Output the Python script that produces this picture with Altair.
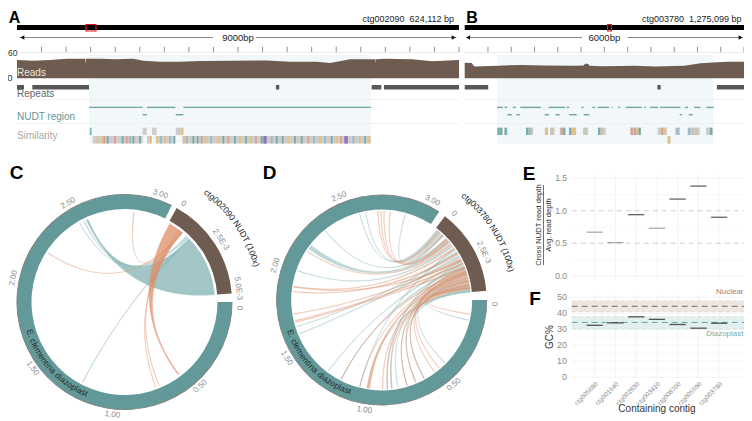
import math
import altair as alt
import pandas as pd

FONT = "Liberation Sans"
BROWN = "#6E5C51"
TEAL = "#64999A"
O = 8
RIGHT = 744   # rightmost pixel the page can show

# ---------- track panels ----------
A_depth_bp = [0,332,672,1012,1351,1385,1392,1400,1690,2030,2369,2573,2912,3320,3727,4406,5084,5560,6103,6374,6782,7257,7300,7305,7312,7498,8042,8449,9000]
A_depth    = [44,42,44,47,47,47,34,47,47,46,47,42,39.5,39.5,41.5,42,43,39.5,39.5,37,45.6,45.6,45.6,36,45.6,47,45.6,41,44]
B_depth_bp = [0,154,190,225,716,1207,1698,2400,2560,2575,2610,2660,2680,2961,3663,4084,4716,5067,5628,6000]
B_depth    = [37.6,36.5,30,28.5,30.4,32,31,30,31,34,35.5,34,30,29,30,28.5,30.4,36,40,40]
A_repeats = [(0,143),(312,1466),(5273,5341),(7221,7418),(7472,9000)]
B_repeats = [(0,505),(4140,4210),(5418,6000)]
A_nudt1 = [(1466,2559),(2647,3224),(3387,7207)]
A_nudt2 = [(2559,2647),(3231,3387)]
B_nudt1 = [(695,821),(856,912),(1032,1102),(1193,1635),(1804,2155),(2190,2246),(2505,2555),(2744,2800),(2856,3102),(3151,3179),(3298,3341),(3460,3804),(3853,3888),(3979,4155),(4197,4632),(4730,4800),(4927,5067),(5193,5348)]
B_nudt2 = [(912,1011),(1109,1186),(1719,1811),(1951,2042),(2246,2407),(2555,2681),(4618,4667),(4814,4899)]
SIM = {"t":"#5AA3A8","o":"#E9BE72","p":"#DB9488","b":"#84B8CB","v":"#8F6FB8","g":"#CDBFA8"}
A_sim1_blocks = [(2559,2640),(2749,2844),(3231,3387)]
A_sim1_stripes = [(1500,"t"),(3370,"o")]
A_sim2_blocks = [(1541,2559),(2647,2749),(2844,3224),(3367,7207)]
A_sim2_stripes = [(1642,"o"),(1737,"o"),(1778,"p"),(1846,"t"),(1995,"p"),(2151,"t"),(2233,"p"),(2301,"b"),(2369,"t"),(2504,"t"),(2722,"o"),(2844,"o"),(2932,"b"),(3014,"o"),(3115,"b"),(3204,"t"),(3400,"o"),(3455,"b"),(3591,"t"),(3679,"t"),(3761,"p"),(3842,"o"),(3951,"b"),(4100,"o"),(4202,"t"),(4304,"p"),(4439,"t"),(4541,"o"),(4663,"t"),(4758,"o"),(4867,"p"),(4982,"t"),(5030,"v"),(5050,"v"),(5070,"v"),(5186,"b"),(5288,"t"),(5410,"t"),(5525,"o"),(5661,"t"),(5797,"t"),(5933,"p"),(6048,"b"),(6170,"o"),(6272,"b"),(6408,"t"),(6510,"o"),(6598,"p"),(6680,"v"),(6700,"v"),(6720,"v"),(6849,"b"),(6985,"o"),(7087,"t"),(7155,"o")]
B_sim1_blocks = [(699,811),(853,916),(1315,1462),(1721,1791),(1833,1931),(2043,2155),(2239,2393),(2540,2652),(2862,3030),(3555,3786),(4143,4346),(4521,4626),(4787,5046),(5186,5333)]
B_sim1_stripes = [(727,"t"),(783,"t"),(881,"t"),(1343,"t"),(1406,"b"),(1441,"g"),(1756,"o"),(1875,"g"),(2085,"p"),(2141,"t"),(2267,"t"),(2316,"o"),(2365,"o"),(2596,"g"),(2890,"t"),(2946,"g"),(3590,"p"),(3660,"p"),(3716,"o"),(3758,"t"),(4241,"p"),(4290,"o"),(4577,"b"),(4822,"b"),(4906,"g"),(4976,"g"),(5291,"t")]
B_sim2_blocks = [(4353,4423)]
B_sim2_stripes = [(4388,"o")]

# ---------- E / F ----------
contigs = ["ctg005680","ctg001640","ctg002830","ctg003410","ctg008700","ctg005590","ctg003780"]
ratio = [0.67,0.51,0.94,0.73,1.18,1.38,0.90]
ratio_col = ["#8a8a8a","#8a8a8a","#222222","#8a8a8a","#222222","#222222","#222222"]
gc = [32.5,34,37.8,36.2,33,30.7,33.8]
E_major=[0,0.5,1,1.5]; E_minor=[0.25,0.75,1.25]
F_major=[0,10,20,30,40,50]; F_minor=[5,15,25,35,45]

# ---------- circular panels: (ctg pos, ctg width, plastome pos, plastome width, colour) ----------
C_chords = [
 (1.6,3.7,2.55,0.012,"w"),(0.1,0.9,0.55,0.008,"W"),
 (0.9,0.06,0.725,0.004,"o"),(0.75,0.06,0.70,0.004,"o"),(1.0,0.06,2.87,0.004,"o"),(0.95,0.05,2.21,0.004,"o"),
 (1.5,0.1,1.22,0.006,"t"),(1.42,0.05,2.50,0.004,"t"),(1.33,0.07,2.53,0.006,"t")]
D_chords = [
 (0.35,.15,2.62,.004,"t"),(0.6,.12,2.88,.004,"t"),(0.9,.12,2.33,.004,"t"),(1.15,.15,2.17,.03,"t"),(1.5,.12,2.01,.004,"t"),
 (2.0,.12,1.64,.004,"t"),(2.3,.15,1.59,.004,"t"),(2.65,.12,1.28,.004,"t"),(3.0,.15,1.18,.004,"t"),(3.2,.12,0.87,.004,"t"),
 (3.55,.12,0.80,.004,"t"),(3.8,.15,0.74,.004,"t"),(4.1,.15,0.62,.004,"t"),(4.35,.2,0.13,.004,"t"),(4.6,.2,0.68,.004,"t"),
 (1.8,.1,1.05,.004,"t"),(2.85,.1,0.84,.004,"t"),(4.68,.1,1.0,.004,"t"),(3.42,.1,0.45,.004,"t"),(0.1,.18,2.58,.004,"t"),
 (0.25,.1,2.70,.004,"o"),(0.55,.1,2.72,.004,"o"),(0.95,.14,2.78,.004,"o"),(1.35,.12,2.15,.004,"o"),(1.7,.12,1.905,.004,"o"),
 (2.1,.14,1.87,.004,"o"),(2.5,.12,1.725,.004,"o"),(2.8,.14,1.68,.004,"o"),(3.1,.12,1.67,.004,"o"),(3.3,.16,1.18,.004,"o"),
 (3.5,.12,1.05,.004,"o"),(3.7,.2,0.985,.02,"o"),(3.95,.16,0.90,.004,"o"),(4.2,.16,0.87,.004,"o"),(4.45,.14,0.84,.004,"o"),
 (4.3,.12,0.74,.004,"o"),(3.6,.12,0.68,.004,"o"),(4.0,.12,0.62,.004,"o"),(3.4,.12,0.54,.004,"o"),(3.15,.1,0.50,.004,"o"),
 (4.5,.1,0.09,.004,"o"),(1.1,.1,2.74,.004,"o"),(2.6,.1,1.90,.004,"o")]
C_plast_ticks=[0.5,1,1.5,2,2.5,3]; D_plast_ticks=C_plast_ticks

def sc(dom, a, b):
    return alt.Scale(domain=dom, range=[a-O, b-O], nice=False, zero=False)

def label(t, px, py, size=10, color="#333333", angle=0, align="center", weight="normal", style="normal"):
    return alt.Chart(pd.DataFrame({"t":[t]})).mark_text(fontSize=size, color=color, angle=angle % 360, align=align,
        baseline="middle", font=FONT, fontWeight=weight, fontStyle=style).encode(x=alt.value(px-O), y=alt.value(py-O), text="t:N")

def rects(iv, xs, y0, y1, color, opacity=1):
    d = pd.DataFrame({"a":[i[0] for i in iv],"b":[i[1] for i in iv],"lo":[0]*len(iv),"hi":[1]*len(iv)})
    return alt.Chart(d).mark_rect(color=color, opacity=opacity, stroke=None).encode(
        x=alt.X("a:Q",scale=xs,axis=None), x2="b:Q",
        y=alt.Y("lo:Q",scale=sc([0,1],y1,y0),axis=None), y2="hi:Q")

def stripes(st, half, xs, y0, y1):
    d = pd.DataFrame({"a":[s[0]-half for s in st],"b":[s[0]+half for s in st],"c":[SIM[s[1]] for s in st],"lo":[0]*len(st),"hi":[1]*len(st)})
    return alt.Chart(d).mark_rect(stroke=None, opacity=0.8).encode(
        x=alt.X("a:Q",scale=xs,axis=None), x2="b:Q",
        y=alt.Y("lo:Q",scale=sc([0,1],y1,y0),axis=None), y2="hi:Q",
        color=alt.Color("c:N",scale=None,legend=None))

def hline(xs, dom, y, color="#EEEEEE"):
    return rects([tuple(dom)], xs, y, y+0.7, color)

def track(span, x0, x1, shade, marker, lenlabel, gap, ctgtext, ctgx, depth_bp, depth, reps, n1, n2, s1b, s1s, s2b, s2s, half):
    xs = sc([0,span], x0, x1)
    L = []
    L.append(rects([shade], xs, 55, 143.5, "#F2F8FA"))
    L.append(hline(xs,[0,span],99)); L.append(hline(xs,[0,span],123.3))
    L.append(rects([(0,span)], xs, 25, 30, "#000000"))
    mk = pd.DataFrame({"a":[marker[0]],"b":[marker[1]],"lo":[0],"hi":[1]})
    L.append(alt.Chart(mk).mark_rect(fill=None, stroke="#E8141C", strokeWidth=1.2).encode(
        x=alt.X("a:Q",scale=xs,axis=None), x2="b:Q", y=alt.Y("lo:Q",scale=sc([0,1],31,24.5),axis=None), y2="hi:Q"))
    L.append(rects([(span*0.006,gap[0]),(gap[1],span*0.994)], xs, 37.2, 37.8, "#111111"))
    for pos,sh in ((span*0.012,"triangle-left"),(span*0.988,"triangle-right")):
        L.append(alt.Chart(pd.DataFrame({"a":[pos]})).mark_point(shape=sh, filled=True, color="#111111", size=22, opacity=1).encode(
            x=alt.X("a:Q",scale=xs,axis=None), y=alt.value(37.5-O)))
    L.append(label(lenlabel, (x0+x1)/2, 37.5, size=9.5, color="#222222"))
    L.append(label(ctgtext, ctgx, 19, size=9, color="#222222", align="right"))
    t = pd.DataFrame({"a":list(range(500,span+1,500))})
    t["lo"]=0; t["hi"]=1
    L.append(alt.Chart(t).mark_rule(color="#666666",strokeWidth=0.7).encode(
        x=alt.X("a:Q",scale=xs,axis=None), y=alt.Y("lo:Q",scale=sc([0,1],52.3,46.7),axis=None), y2="hi:Q"))
    L.append(rects([(0,span)], xs, 52, 52.6, "#D8D8D8"))
    ys = sc([0,60], 78.3, 53.3)
    cov = pd.DataFrame({"a":depth_bp,"d":depth})
    L.append(alt.Chart(cov).mark_area(color=BROWN, interpolate="linear").encode(
        x=alt.X("a:Q",scale=xs,axis=None), y=alt.Y("d:Q",scale=ys,axis=None)))
    L.append(rects(reps, xs, 85, 89.5, "#585858"))
    L.append(rects(n1, xs, 106.7, 108.1, "#6FA5A3"))
    L.append(rects(n2, xs, 114, 115.4, "#6FA5A3"))
    L.append(rects(s1b, xs, 127.7, 135, "#CFCCC9"))
    L.append(stripes(s1s, half, xs, 127.7, 135))
    L.append(rects(s2b, xs, 136, 143.5, "#CFCCC9"))
    L.append(stripes(s2s, half, xs, 136, 143.5))
    return L

layers = []
layers += track(9000,17,459,(1466,7207),(1405,1608),"9000bp",(3990,4860),"ctg002090\u00a0\u00a0624,112 bp",454,A_depth_bp,A_depth,A_repeats,A_nudt1,A_nudt2,A_sim1_blocks,A_sim1_stripes,A_sim2_blocks,A_sim2_stripes,18)
layers += track(6000,464.7,RIGHT,(695,5347),(3069,3153),"6000bp",(2520,3500),"ctg003780\u00a0\u00a01,275,099 bp",741.5,B_depth_bp,B_depth,B_repeats,B_nudt1,B_nudt2,B_sim1_blocks,B_sim1_stripes,B_sim2_blocks,B_sim2_stripes,24)

layers.append(label("A",14.5,17.5,size=16,color="#000000",weight="bold"))
layers.append(label("B",472,17.5,size=16,color="#000000",weight="bold"))
layers.append(label("60",17.5,53,size=8.5,color="#333333",align="right"))
layers.append(label("0",12.5,77.5,size=9.5,color="#333333",align="right"))
layers.append(label("Reads",17,72.7,size=10,color="#EDE6DF",align="left"))
layers.append(label("Repeats",17,94,size=10,color="#666666",align="left"))
layers.append(label("NUDT region",17,117,size=10,color="#5F9799",align="left"))
layers.append(label("Similarity",17,136,size=10,color="#A8A8A8",align="left"))

# ---------- circular panels ----------
W = {"i":.27,"l":.23,".":.28," ":.28,"t":.28,"r":.34,"(":.33,")":.33,"c":.5,"z":.5,"s":.5,"x":.5,"m":.83,"U":.72,"N":.72,"D":.72,"T":.61,"E":.67}
def curved(text, cx, cy, r, start_deg, size, color, clockwise=True, style="normal"):
    step = 180/math.pi/r
    pos = start_deg; rows=[]
    for c in text:
        w = W.get(c,.556)*size
        mid = pos + (w/2)*step*(1 if clockwise else -1)
        rot = mid if clockwise else mid-180
        rows.append({"c":c,"th":math.radians(mid),"rot":rot % 360})
        pos += w*step*(1 if clockwise else -1)
    return alt.Chart(pd.DataFrame(rows)).mark_text(radius=r,fontSize=size,color=color,font=FONT,fontStyle=style,align="center",baseline="middle").encode(
        theta=alt.Theta("th:Q",scale=None), angle=alt.Angle("rot:Q",scale=None), text="c:N",
        x=alt.value(cx-O), y=alt.value(cy-O))

def ring(cx, cy, rin, rout, dom, a0, a1, color):
    d = pd.DataFrame({"a":[dom[0]],"b":[dom[1]]})
    s = alt.Scale(domain=dom, range=[math.radians(a0),math.radians(a1)], nice=False, zero=False)
    return alt.Chart(d).mark_arc(innerRadius=rin, outerRadius=rout, color=color, stroke=None).encode(
        theta=alt.Theta("a:Q",scale=s), theta2="b:Q", x=alt.value(cx-O), y=alt.value(cy-O))

def ticks(cx, cy, r, vals, texts, dom, a0, a1, size=8):
    s = alt.Scale(domain=dom, range=[math.radians(a0),math.radians(a1)], nice=False, zero=False)
    rows=[]
    for v,t in zip(vals,texts):
        th = a0+(v-dom[0])/(dom[1]-dom[0])*(a1-a0)
        th %= 360
        rot = th-180 if 100<th<260 else th
        rows.append({"v":v,"t":t,"rot":rot%360})
    return alt.Chart(pd.DataFrame(rows)).mark_text(radius=r,fontSize=size,color="#8A8A8A",font=FONT,align="center",baseline="middle").encode(
        theta=alt.Theta("v:Q",scale=s), angle=alt.Angle("rot:Q",scale=None), text="t:N", x=alt.value(cx-O), y=alt.value(cy-O))

def ribbons(chords, kinds, rho, pl_dom, pl_ang, ct_dom, ct_ang):
    pa = lambda v: math.radians(pl_ang[0]+v/pl_dom*(pl_ang[1]-pl_ang[0]))
    ca = lambda v: math.radians(ct_ang[0]+v/ct_dom*(ct_ang[1]-ct_ang[0]))
    rows=[]
    for k,(c,wc,p,wp,kd) in enumerate(chords):
        if kd not in kinds: continue
        a1,a2=ca(c),ca(c+wc); b1,b2=pa(p),pa(p+wp)
        P=lambda t:(rho*math.sin(t),rho*math.cos(t))
        pts=[P(a1+(a2-a1)*j/8) for j in range(9)]
        def bez(t0,t1):
            x0,y0=P(t0);x1,y1=P(t1)
            return [((1-u)**2*x0+u*u*x1,(1-u)**2*y0+u*u*y1) for u in [j/40 for j in range(1,40)]]
        pts+=bez(a2,b1)
        pts+=[P(b1+(b2-b1)*j/4) for j in range(5)]
        pts+=bez(b2,a1)
        pts.append(P(a1))
        for i,(x,y) in enumerate(pts):
            rows.append({"id":k,"i":i,"x":x,"y":y})
    return pd.DataFrame(rows)

STY = {"t":("#7FB1B1",0.5),"o":("#E08E68",0.55),"w":("#7FB1B1",0.72),"W":("#E08E68",0.75)}
def chord_layers(chords, cx, cy, R, rho, pl_dom, pl_ang, ct_dom, ct_ang, order):
    out=[]
    for kind in order:
        df = ribbons(chords,[kind],rho,pl_dom,pl_ang,ct_dom,ct_ang)
        if df.empty: continue
        col,op = STY[kind]
        out.append(alt.Chart(df).mark_line(filled=True,fill=col,stroke=col,strokeWidth=0.35,opacity=op,interpolate="linear").encode(
            x=alt.X("x:Q",scale=sc([-1,1],cx-R,cx+R),axis=None),
            y=alt.Y("y:Q",scale=sc([-1,1],cy+R,cy-R),axis=None),
            detail="id:N", order=alt.Order("i:Q")))
    return out

pticks_txt=["0.50","1.00","1.50","2.00","2.50","3.00"]
# C
layers += chord_layers(C_chords,124.5,302,107.5,90.3/107.5,3.08,(90,386),5.3,(29,85.4),["w","t","o","W"])
layers.append(ring(124.5,302,93,107.5,[0,3.08],90,386,TEAL))
layers.append(ring(124.5,302,107.2,108,[0,3.08],90,386,"#777777"))
layers.append(ring(124.5,302,93,107.5,[0,5.3],29,85.4,BROWN))
layers.append(ticks(124.5,302,113.5,C_plast_ticks,pticks_txt,[0,3.08],90,386))
layers.append(ticks(124.5,302,115,[0],["0"],[0,3.08],93,389))
layers.append(ticks(124.5,302,114.5,[0,2.5,5.0],["0","2.5E-3","5.0E-3"],[0,5.3],31,86.4))
layers.append(curved("E. clementina diazoplast",124.5,302,100,254,8.3,"#1E2B2B",clockwise=False))
layers.append(curved("ctg002090 NUDT (100x)",124.5,302,137,36,8.6,"#222222"))
layers.append(label("C",16.5,173,size=19,color="#000000",weight="bold"))
# D
layers += chord_layers(D_chords,381.7,300,105,89/105,3.06,(90,393),4.8,(37,85),["t","o"])
layers.append(ring(381.7,300,90.5,105,[0,3.06],90,393,TEAL))
layers.append(ring(381.7,300,104.7,105.5,[0,3.06],90,393,"#777777"))
layers.append(ring(381.7,300,90.5,105,[0,4.8],37,85,BROWN))
layers.append(ticks(381.7,300,111.5,D_plast_ticks,pticks_txt,[0,3.06],90,393))
layers.append(ticks(381.7,300,112.5,[0],["0"],[0,3.06],92,395))
layers.append(ticks(381.7,300,112.5,[0,2.5],["0","2.5E-3"],[0,4.8],40,88))
layers.append(curved("E. clementina diazoplast",381.7,300,97.5,252,8.3,"#1E2B2B",clockwise=False))
layers.append(curved("ctg003780 NUDT (100x)",381.7,300,133,37.5,8.6,"#222222"))
layers.append(label("D",269.5,173,size=19,color="#000000",weight="bold"))

# ---------- E ----------
xp = alt.Scale(type="point",domain=contigs,range=[584.3-O,729.5-O])
yE = sc([0,1.5],275.7,178.3)
yF = sc([0,50],377.3,297.3)
def hgrid(vals, ys, color, width=0.7, dash=None):
    d=pd.DataFrame({"v":vals,"a":[0]*len(vals),"b":[1]*len(vals)})
    kw={"strokeDash":dash} if dash else {}
    return alt.Chart(d).mark_rule(color=color,strokeWidth=width,**kw).encode(
        y=alt.Y("v:Q",scale=ys,axis=None),
        x=alt.X("a:Q",scale=sc([0,1],571.7,RIGHT),axis=None), x2="b:Q")
def vgrid(lo,hi,ys):
    d=pd.DataFrame({"c":contigs,"lo":[lo]*7,"hi":[hi]*7})
    return alt.Chart(d).mark_rule(color="#EEEEEE",strokeWidth=0.7).encode(
        x=alt.X("c:N",scale=xp,axis=None),y=alt.Y("lo:Q",scale=ys,axis=None),y2="hi:Q")
def ylabels(vals,fmt,ys,size=8.5):
    d=pd.DataFrame({"v":vals,"t":[fmt(v) for v in vals]})
    return alt.Chart(d).mark_text(fontSize=size,color="#8A8A8A",font=FONT,align="right",baseline="middle").encode(
        y=alt.Y("v:Q",scale=ys,axis=None),x=alt.value(567-O),text="t:N")

layers += [hgrid(E_minor,yE,"#F6F6F6"),hgrid([0,1.5],yE,"#EEEEEE"),vgrid(-0.05,1.56,yE),
           hgrid([0.5,1.0],yE,"#CFCFCF",1,[5,4]),ylabels(E_major,lambda v:f"{v:.1f}",yE)]
dE=pd.DataFrame({"c":contigs,"v":ratio,"k":ratio_col})
layers.append(alt.Chart(dE).mark_tick(orient="horizontal",size=16.2,thickness=1.3).encode(
    x=alt.X("c:N",scale=xp,axis=None),y=alt.Y("v:Q",scale=yE,axis=None),color=alt.Color("k:N",scale=None,legend=None)))
layers.append(label("Cross NUDT read depth",538.5,225,size=7.6,color="#333333",angle=270))
layers.append(label("Avg. read depth",549,225,size=7.6,color="#333333",angle=270))
layers.append(alt.Chart(pd.DataFrame({"a":[0]})).mark_rule(color="#333333",strokeWidth=0.7).encode(
    x=alt.value(543.5-O),y=alt.value(185-O),y2=alt.value(265-O)))
layers.append(label("E",529,173.5,size=19,color="#000000",weight="bold"))

# ---------- F ----------
def band(lo,hi,color):
    d=pd.DataFrame({"a":[0],"b":[1],"lo":[lo],"hi":[hi]})
    return alt.Chart(d).mark_rect(color=color,stroke=None).encode(
        x=alt.X("a:Q",scale=sc([0,1],571.7,RIGHT),axis=None),x2="b:Q",
        y=alt.Y("lo:Q",scale=yF,axis=None),y2="hi:Q")
layers += [hgrid(F_minor,yF,"#F6F6F6"),hgrid(F_major,yF,"#EEEEEE"),vgrid(-1,52,yF),
           band(41,47.7,"#EDE7E4"),band(30.2,37.9,"#E3EFEF"),
           hgrid([47.7,41],yF,"#D9D0CB",0.7,[4,3]),hgrid([37.9,30.2],yF,"#C7DEDD",0.7,[4,3]),
           hgrid([44.4],yF,"#7A675C",1,[6,4]),hgrid([34.3],yF,"#64A6A3",1,[6,4]),
           ylabels(F_major,lambda v:f"{v}",yF,size=9)]
dF=pd.DataFrame({"c":contigs,"v":gc})
layers.append(alt.Chart(dF).mark_tick(orient="horizontal",size=16.2,thickness=1.3,color="#111111").encode(
    x=alt.X("c:N",scale=xp,axis=None),y=alt.Y("v:Q",scale=yF,axis=None)))
d=pd.DataFrame({"c":contigs})
layers.append(alt.Chart(d).mark_text(fontSize=6.4,color="#8A8A8A",font=FONT,angle=315,align="right",baseline="top").encode(
    x=alt.X("c:N",scale=xp,axis=None),y=alt.value(381-O),text="c:N"))
layers.append(label("Nuclear",743.5,292,size=8,color="#94847A",align="right"))
layers.append(label("Diazoplast",743.5,333.5,size=8,color="#74ADAD",align="right"))
layers.append(label("GC%",550,337,size=10,color="#333333",angle=270))
layers.append(label("Containing contig",657,409,size=10,color="#333333"))
layers.append(label("F",535,298.5,size=19,color="#000000",weight="bold"))

chart = alt.layer(*layers).resolve_scale(x="independent",y="independent",theta="independent",color="independent").properties(
    width=736,height=413,padding=0,autosize=alt.AutoSizeParams(type="none"),background="white"
).configure_view(stroke=None)
chart.save("out.html", embed_options={"renderer":"svg","actions":False})
